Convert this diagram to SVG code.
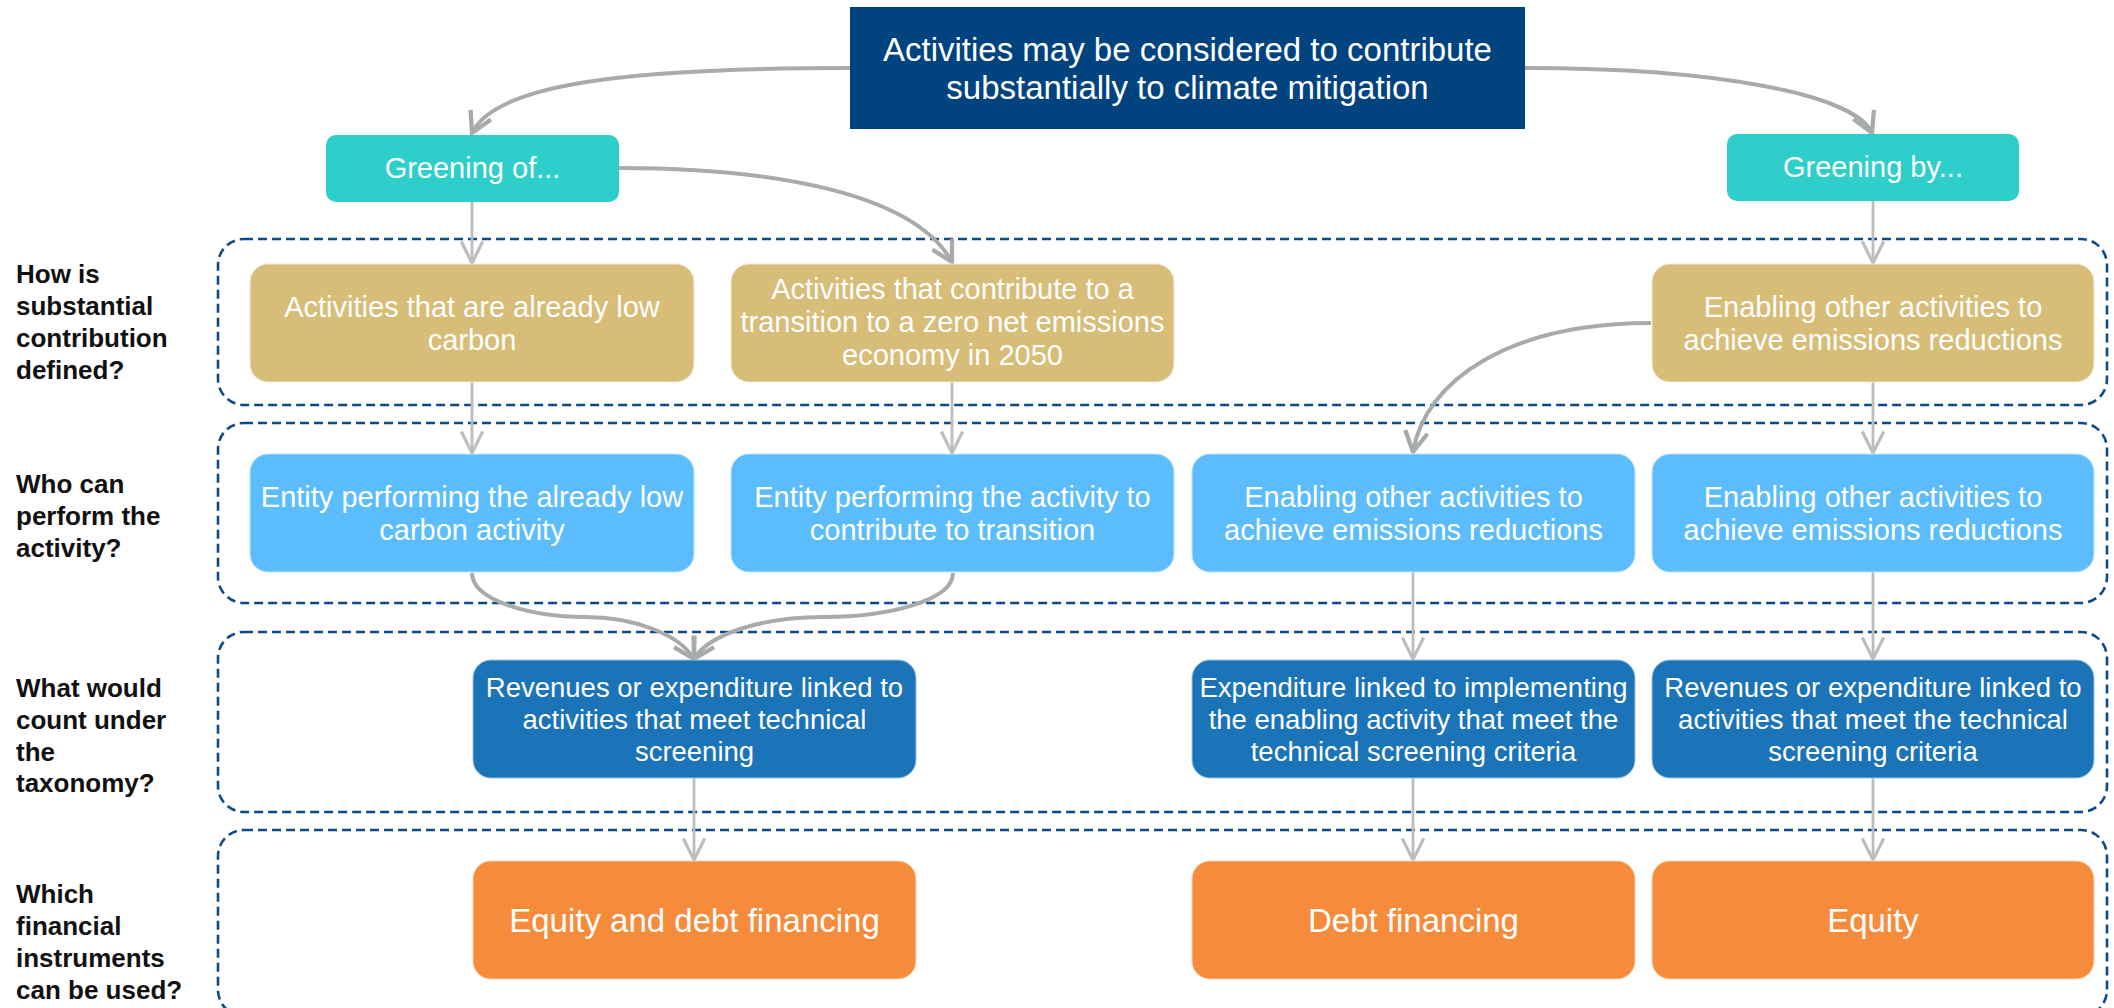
<svg xmlns="http://www.w3.org/2000/svg" width="2114" height="1008" viewBox="0 0 2114 1008">
<defs>
<style>
text{font-family:"Liberation Sans",Arial,sans-serif;}
.w{fill:#ffffff;text-anchor:middle;}
.f29{font-size:29px;}
.f27{font-size:27.5px;}
.f33{font-size:33px;}
.lab{font-size:26px;font-weight:bold;fill:#111111;}
.row{fill:none;stroke:#0F4A88;stroke-width:2.6;stroke-dasharray:9 5;}
.curve{fill:none;stroke:#A8ABAB;stroke-width:4;marker-end:url(#ah);}
.vert{fill:none;stroke:#BCBDBD;stroke-width:2.8;marker-end:url(#av);}
.top{fill:#00437F;}
.grn{fill:#2ECECB;}
.tan{fill:#D7BD77;stroke:#F3EAD2;stroke-width:1;}
.lb{fill:#5CBDFE;stroke:#BFE3FF;stroke-width:1;}
.mb{fill:#1B73B8;stroke:#9CC3E3;stroke-width:1;}
.or{fill:#F68B3B;stroke:#FBD1B0;stroke-width:1;}
</style>
<marker id="ah" markerUnits="userSpaceOnUse" markerWidth="30" markerHeight="30" viewBox="-24 -14 28 28" refX="0" refY="0" orient="auto">
<path d="M-19,-10.5 L0,0 L-19,10.5" fill="none" stroke="#A8ABAB" stroke-width="4" stroke-linejoin="miter"/>
</marker>
<marker id="av" markerUnits="userSpaceOnUse" markerWidth="30" markerHeight="30" viewBox="-24 -14 28 28" refX="0" refY="0" orient="auto">
<path d="M-20,-10 L0,0 L-20,10" fill="none" stroke="#BCBDBD" stroke-width="3"/>
</marker>
</defs>
<rect width="2114" height="1008" fill="#ffffff"/>

<g id="rows">
<rect class="row" x="218" y="239" width="1889" height="166" rx="26"/>
<rect class="row" x="218" y="423" width="1889" height="180" rx="26"/>
<rect class="row" x="218" y="632" width="1889" height="180" rx="26"/>
<rect class="row" x="218" y="830" width="1889" height="186" rx="26"/>
</g>

<g id="labels">
<text class="lab" x="16" y="283">How is</text>
<text class="lab" x="16" y="315">substantial</text>
<text class="lab" x="16" y="347">contribution</text>
<text class="lab" x="16" y="379">defined?</text>
<text class="lab" x="16" y="493">Who can</text>
<text class="lab" x="16" y="525">perform the</text>
<text class="lab" x="16" y="557">activity?</text>
<text class="lab" x="16" y="697">What would</text>
<text class="lab" x="16" y="729">count under</text>
<text class="lab" x="16" y="761">the</text>
<text class="lab" x="16" y="792">taxonomy?</text>
<text class="lab" x="16" y="903">Which</text>
<text class="lab" x="16" y="935">financial</text>
<text class="lab" x="16" y="967">instruments</text>
<text class="lab" x="16" y="999">can be used?</text>
</g>

<g id="connectors">
<path class="curve" d="M850,68 C620,68 495,85 472,133"/>
<path class="curve" d="M1525,68 C1720,68 1855,95 1872,133"/>
<path class="curve" d="M619,168 C780,168 915,195 952,262"/>
<path class="curve" d="M1651,323 C1510,323 1425,380 1413,452"/>
<path class="curve" d="M472,573 C472,600 530,617 585,617 C635,617 680,635 694,659"/>
<path class="curve" d="M953,573 C953,600 890,617 823,617 C760,617 708,635 694,659"/>
<path class="vert" d="M472,202 V263"/>
<path class="vert" d="M1873,201 V263"/>
<path class="vert" d="M472,382 V453"/>
<path class="vert" d="M952,382 V453"/>
<path class="vert" d="M1873,382 V453"/>
<path class="vert" d="M1413,572 V659"/>
<path class="vert" d="M1873,572 V659"/>
<path class="vert" d="M694,778 V860"/>
<path class="vert" d="M1413,778 V860"/>
<path class="vert" d="M1873,778 V860"/>
</g>

<g id="n-top">
<rect class="top" x="850" y="7" width="675" height="122"/>
<text class="w f33" x="1187.5" y="61">Activities may be considered to contribute</text>
<text class="w f33" x="1187.5" y="99">substantially to climate mitigation</text>
</g>
<g id="n-greening-of">
<rect class="grn" x="326" y="135" width="293" height="67" rx="10"/>
<text class="w f29" x="472.5" y="178">Greening of...</text>
</g>
<g id="n-greening-by">
<rect class="grn" x="1727" y="134" width="292" height="67" rx="10"/>
<text class="w f29" x="1873" y="177">Greening by...</text>
</g>

<g id="n-r1c1">
<rect class="tan" x="250" y="264" width="444" height="118" rx="18"/>
<text class="w f29" x="472" y="316.5">Activities that are already low</text>
<text class="w f29" x="472" y="349.5">carbon</text>
</g>
<g id="n-r1c2">
<rect class="tan" x="731" y="264" width="443" height="118" rx="18"/>
<text class="w f29" x="952.5" y="299">Activities that contribute to a</text>
<text class="w f29" x="952.5" y="332">transition to a zero net emissions</text>
<text class="w f29" x="952.5" y="365">economy in 2050</text>
</g>
<g id="n-r1c4">
<rect class="tan" x="1652" y="264" width="442" height="118" rx="18"/>
<text class="w f29" x="1873" y="316.5">Enabling other activities to</text>
<text class="w f29" x="1873" y="349.5">achieve emissions reductions</text>
</g>

<g id="n-r2c1">
<rect class="lb" x="250" y="454" width="444" height="118" rx="18"/>
<text class="w f29" x="472" y="506.5">Entity performing the already low</text>
<text class="w f29" x="472" y="539.5">carbon activity</text>
</g>
<g id="n-r2c2">
<rect class="lb" x="731" y="454" width="443" height="118" rx="18"/>
<text class="w f29" x="952.5" y="506.5">Entity performing the activity to</text>
<text class="w f29" x="952.5" y="539.5">contribute to transition</text>
</g>
<g id="n-r2c3">
<rect class="lb" x="1192" y="454" width="443" height="118" rx="18"/>
<text class="w f29" x="1413.5" y="506.5">Enabling other activities to</text>
<text class="w f29" x="1413.5" y="539.5">achieve emissions reductions</text>
</g>
<g id="n-r2c4">
<rect class="lb" x="1652" y="454" width="442" height="118" rx="18"/>
<text class="w f29" x="1873" y="506.5">Enabling other activities to</text>
<text class="w f29" x="1873" y="539.5">achieve emissions reductions</text>
</g>

<g id="n-r3c1">
<rect class="mb" x="473" y="660" width="443" height="118" rx="18"/>
<text class="w f27" x="694.5" y="697">Revenues or expenditure linked to</text>
<text class="w f27" x="694.5" y="729">activities that meet technical</text>
<text class="w f27" x="694.5" y="761">screening</text>
</g>
<g id="n-r3c3">
<rect class="mb" x="1192" y="660" width="443" height="118" rx="18"/>
<text class="w f27" x="1413.5" y="697">Expenditure linked to implementing</text>
<text class="w f27" x="1413.5" y="729">the enabling activity that meet the</text>
<text class="w f27" x="1413.5" y="761">technical screening criteria</text>
</g>
<g id="n-r3c4">
<rect class="mb" x="1652" y="660" width="442" height="118" rx="18"/>
<text class="w f27" x="1873" y="697">Revenues or expenditure linked to</text>
<text class="w f27" x="1873" y="729">activities that meet the technical</text>
<text class="w f27" x="1873" y="761">screening criteria</text>
</g>

<g id="n-r4c1">
<rect class="or" x="473" y="861" width="443" height="118" rx="18"/>
<text class="w f33" x="694.5" y="932">Equity and debt financing</text>
</g>
<g id="n-r4c3">
<rect class="or" x="1192" y="861" width="443" height="118" rx="18"/>
<text class="w f33" x="1413.5" y="932">Debt financing</text>
</g>
<g id="n-r4c4">
<rect class="or" x="1652" y="861" width="442" height="118" rx="18"/>
<text class="w f33" x="1873" y="932">Equity</text>
</g>
</svg>
